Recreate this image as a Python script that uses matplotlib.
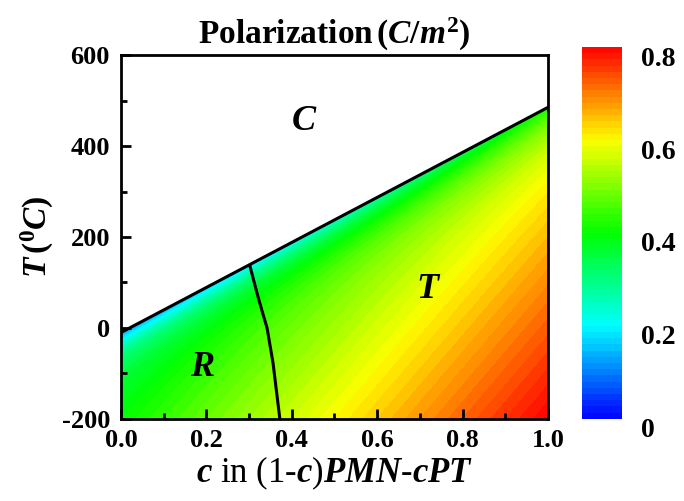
import numpy as np
import matplotlib.pyplot as plt
import matplotlib.transforms as mtransforms
from matplotlib.colors import LinearSegmentedColormap

plt.rcParams['font.family'] = ['Liberation Serif', 'DejaVu Serif']
plt.rcParams['font.weight'] = 'bold'
plt.rcParams['mathtext.fontset'] = 'custom'
plt.rcParams['mathtext.rm'] = 'Liberation Serif:bold'
plt.rcParams['mathtext.it'] = 'Liberation Serif:bold:italic'
plt.rcParams['mathtext.bf'] = 'Liberation Serif:bold'

# phase boundaries
tc_c = [0.0, 1.0]            # C / (R,T) boundary (Curie line)
tc_T = [-10.0, 485.0]
mpb_c = [0.302, 0.312, 0.321, 0.332, 0.342, 0.356, 0.372]   # R / T boundary
mpb_T = [136.0, 100.0, 68.0, 32.0, 0.0, -77.0, -200.0]

# polarization read at a few places of the map
p_corner = 0.40        # c = 0, T = -200
p_slope = 0.40         # per unit of the diagonal coordinate
iso_slope = 1100.0     # dT/dc along the iso-polarization bands
edge_drop = [0.68, 0.25]     # relative drop of P right under Tc at c = 0, c = 1
edge_width = [32.0, 60.0]    # decay (deg C) of that drop at c = 0, c = 1

phase_labels = ['C', 'R', 'T']
phase_c = [0.43, 0.19, 0.72]
phase_T = [455.0, -88.0, 84.0]

cbar_ticks = [0, 0.2, 0.4, 0.6, 0.8]
cbar_labels = ['0', '0.2', '0.4', '0.6', '0.8']

# colour scale blue -> cyan -> green -> yellow -> red
cmap = LinearSegmentedColormap.from_list(
    'pol', ['#0000ff', '#00ffff', '#00ff00', '#ffff00', '#ff0000'])

c = np.linspace(0, 1, 400)
T = np.linspace(-200, 600, 400)
C, TT = np.meshgrid(c, T)
Tc = np.interp(C, tc_c, tc_T)
u = C - (TT + 200) / iso_slope
p_lin = p_corner + p_slope * u
k = np.interp(C, [0, 1], edge_drop)
w = np.interp(C, [0, 1], edge_width)
P = p_lin * (1 - k * np.exp(-np.clip(Tc - TT, 0, None) / w))
P = np.ma.masked_where(TT > Tc, np.clip(P, 0, 0.8))

fig = plt.figure(figsize=(6.84, 5.01), dpi=100)
ax = fig.add_axes([0.177, 0.164, 0.624, 0.726])
cax = fig.add_axes([0.851, 0.164, 0.058, 0.742])

cs = ax.contourf(C, TT, P, levels=np.linspace(0, 0.8, 61), cmap=cmap, vmin=0, vmax=0.8)
ax.plot(tc_c, tc_T, color='black', lw=2.2)
ax.plot(mpb_c, mpb_T, color='black', lw=2.2)

for lab, x, y in zip(phase_labels, phase_c, phase_T):
    ax.text(x, y, '$' + lab + '$', fontsize=26, ha='center', va='center')

ax.set(xlim=(0, 1), ylim=(-200, 600), xticks=np.arange(0, 1.01, 0.2),
       yticks=range(-200, 601, 200))
ax.set_xticks(np.arange(0.1, 1.0, 0.2), minor=True)
ax.set_yticks(range(-100, 600, 200), minor=True)
ax.tick_params(which='both', direction='in', width=2, labelsize=19)
ax.tick_params(which='major', length=7)
ax.tick_params(which='minor', length=4)
ax.tick_params(axis='y', pad=8)
ax.tick_params(axis='x', pad=7)
for s in ax.spines.values():
    s.set_linewidth(2)
ax.set_xticklabels(['0.0', '0.2', '0.4', '0.6', '0.8', '1.0'], fontweight='bold')
ax.set_yticklabels(['-200', '0', '200', '400', '600'], fontweight='bold')

ax.set_xlabel('$c$ in (1-$c$)$PMN$-$cPT$', fontsize=25, labelpad=2)
ax.set_ylabel(r'$T\,(^{0}C)$', fontsize=24, labelpad=4)
ax.set_title(r'Polarization$\,(C/m^2)$', fontsize=24, fontweight='bold', pad=8)

cb = fig.colorbar(cs, cax=cax, ticks=cbar_ticks)
cb.outline.set_visible(False)
cb.ax.set_yticklabels(cbar_labels, fontweight='bold')
cb.ax.tick_params(length=0, labelsize=20, pad=14)
# labels sit a little below their values in the reference
shift = mtransforms.ScaledTranslation(0, -0.09, fig.dpi_scale_trans)
for t in cb.ax.get_yticklabels():
    t.set_transform(t.get_transform() + shift)

fig.savefig('out.png', dpi=100)
